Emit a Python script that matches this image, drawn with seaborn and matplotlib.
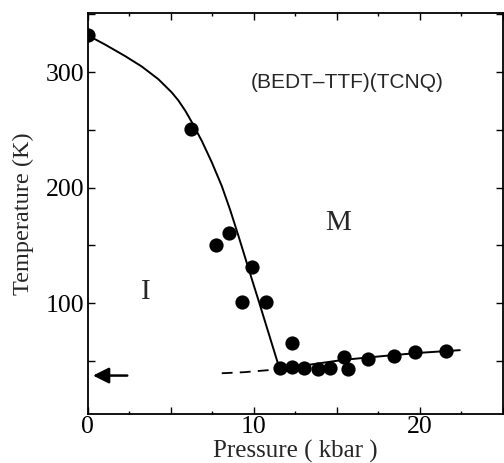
import matplotlib
matplotlib.use("Agg")
import matplotlib.pyplot as plt
import seaborn as sns
import pandas as pd
from matplotlib.ticker import MultipleLocator, FuncFormatter

# ---- data ----
pressure = [0.0, 6.2, 7.7, 8.5, 9.3, 9.9, 10.75, 12.3, 11.55, 12.3, 13.05,
            13.85, 14.6, 15.4, 15.65, 16.9, 18.45, 19.7, 21.55]
temperature = [332, 251, 150, 161, 101, 131, 101, 65.5, 43.5, 44.5, 44,
               43.3, 44, 53, 43, 52, 54.3, 57.8, 58.4]

# MI boundary (solid curve)
mi_p = [0.0, 1.04, 2.25, 3.25, 4.25, 5.06, 5.46, 5.86, 6.22, 6.87, 7.47,
        8.07, 8.57, 9.07, 9.67, 10.28, 10.88, 11.48]
mi_t = [332, 324, 314, 305, 294, 282.5, 275.5, 267, 258, 240.5, 222,
        201.5, 181, 158.5, 130.5, 102.5, 74.5, 46.5]

# low-temperature boundary (solid part)
low_p = [11.3, 13.0, 15.4, 18.0, 20.0, 22.4]
low_t = [42.5, 46.0, 50.9, 54.5, 57.0, 59.3]

# extrapolated boundary (dashed part)
ext_p = [8.07, 9.4, 11.3]
ext_t = [39.3, 40.2, 42.5]

arrow_t = 37.3
arrow_p_from, arrow_p_to = 2.55, 0.15

compound = "(BEDT\u2013TTF)(TCNQ)"

sns.set_theme(style="ticks")
plt.rcParams['font.family'] = ['Liberation Serif', 'DejaVu Serif']

fig = plt.figure(figsize=(5.04, 4.63), dpi=100)
ax = fig.add_axes([0.174, 0.1058, 0.824, 0.8654])

pts = pd.DataFrame({"p": pressure, "t": temperature})
sns.scatterplot(data=pts, x="p", y="t", ax=ax, color="black", s=105,
                edgecolor="black", linewidth=0, zorder=3)

sns.lineplot(x=mi_p, y=mi_t, ax=ax, color="black", lw=1.4, sort=False,
             estimator=None)
sns.lineplot(x=low_p, y=low_t, ax=ax, color="black", lw=1.4, sort=False,
             estimator=None)
ax.plot(ext_p, ext_t, color="black", lw=1.3, dashes=(6, 4))

ax.annotate("", xy=(arrow_p_to, arrow_t), xytext=(arrow_p_from, arrow_t),
            arrowprops=dict(arrowstyle="-|>,head_length=0.6,head_width=0.3",
                            color="black", lw=1.8, mutation_scale=16))

ax.text(15.6, 291.5, compound, ha="center", va="center", fontsize=15,
        family=['Liberation Sans', 'DejaVu Sans'])
ax.text(15.1, 169.8, "M", ha="center", va="center", fontsize=21)
ax.text(3.5, 110, "I", ha="center", va="center", fontsize=21)

ax.set_xlim(0, 25)
ax.set_ylim(4, 351)

ax.xaxis.set_major_locator(MultipleLocator(5))
ax.xaxis.set_minor_locator(MultipleLocator(2.5))
ax.xaxis.set_major_formatter(FuncFormatter(
    lambda v, pos: f"{int(round(v))}" if round(v) % 10 == 0 and v < 24 else ""))
ax.yaxis.set_major_locator(MultipleLocator(50))
ax.yaxis.set_major_formatter(FuncFormatter(
    lambda v, pos: f"{int(round(v))}" if round(v) % 100 == 0 and v > 10 else ""))

ax.tick_params(which="both", direction="in", top=True, right=True,
               width=1.0, colors="black", labelsize=18.5)
ax.tick_params(which="major", length=5, pad=1.5)
ax.tick_params(which="minor", length=2.5)
ax.tick_params(axis="y", pad=2.5)

for s in ax.spines.values():
    s.set_linewidth(1.3)
    s.set_color("black")

ax.set_xlabel("Pressure ( kbar )", fontsize=18, labelpad=1.5)
ax.set_ylabel("Temperature (K)", fontsize=17.5, labelpad=8)

fig.savefig("out.png", dpi=100)
